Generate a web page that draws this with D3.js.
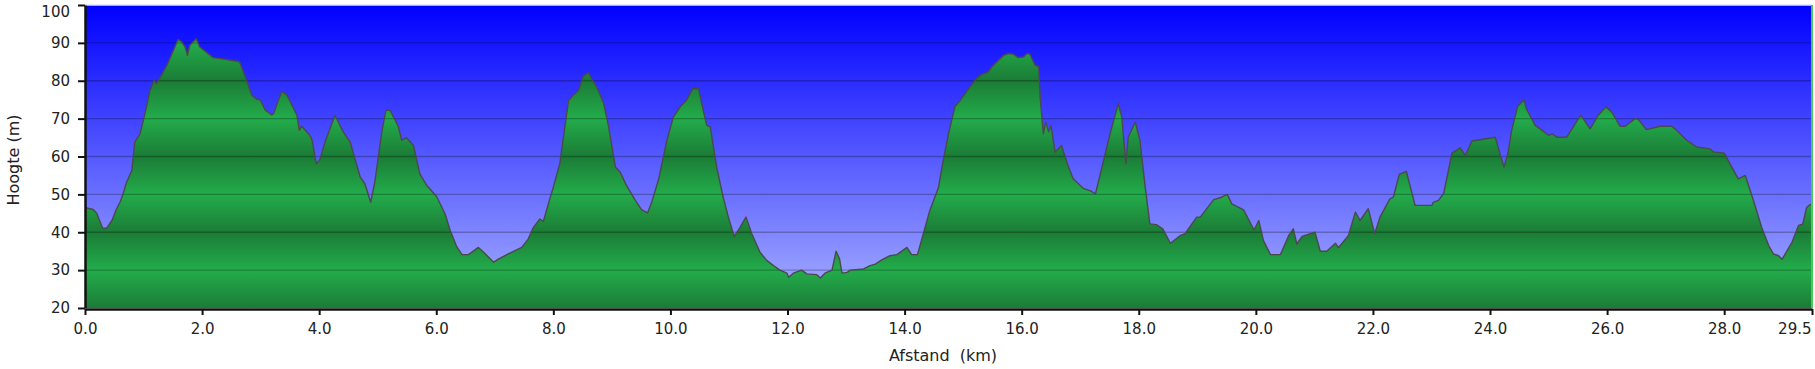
<!DOCTYPE html>
<html>
<head>
<meta charset="utf-8">
<script src="https://cdn.jsdelivr.net/npm/d3@7"></script>
<style>
  body { margin: 0; background: #fff; }
  text { font-family: "DejaVu Sans", Verdana, sans-serif; fill: #222; }
</style>
</head>
<body>
<div id="plot"></div>
<script>
// distance along the route (km) and elevation (m)
const distKm = [0.00,0.03,0.14,0.20,0.30,0.37,0.46,0.54,0.60,0.65,0.71,0.80,0.85,0.94,1.03,1.11,1.18,1.22,1.40,1.59,
  1.65,1.71,1.75,1.79,1.90,1.96,2.19,2.42,2.64,2.73,2.85,2.93,2.99,3.08,3.19,3.22,3.36,3.45,3.62,3.66,
  3.70,3.84,3.88,3.95,4.01,4.10,4.27,4.41,4.53,4.70,4.78,4.88,4.95,5.07,5.14,5.21,5.35,5.41,5.49,5.61,
  5.72,5.84,5.89,6.01,6.15,6.24,6.35,6.44,6.55,6.72,6.81,6.98,7.06,7.23,7.46,7.57,7.66,7.77,7.83,7.94,
  8.00,8.11,8.26,8.34,8.43,8.51,8.60,8.65,8.74,8.86,8.94,9.06,9.14,9.25,9.40,9.51,9.61,9.68,9.80,9.94,
  10.05,10.17,10.28,10.38,10.48,10.56,10.62,10.68,10.79,10.90,10.99,11.09,11.19,11.29,11.39,11.53,11.65,11.76,11.87,11.99,
  12.02,12.10,12.24,12.33,12.50,12.56,12.64,12.76,12.83,12.89,12.93,13.02,13.07,13.30,13.41,13.50,13.61,13.75,13.87,14.04,
  14.12,14.22,14.32,14.43,14.58,14.66,14.75,14.86,14.95,15.12,15.23,15.32,15.43,15.49,15.69,15.77,15.86,15.94,16.03,16.09,
  16.14,16.23,16.29,16.32,16.37,16.41,16.46,16.50,16.57,16.68,16.80,16.88,17.06,17.17,17.26,17.40,17.51,17.65,17.71,17.78,
  17.82,17.94,18.02,18.11,18.19,18.30,18.41,18.54,18.71,18.79,18.99,19.05,19.28,19.39,19.51,19.59,19.79,19.97,20.05,20.13,
  20.25,20.42,20.56,20.64,20.70,20.79,21.01,21.10,21.21,21.36,21.41,21.58,21.70,21.78,21.92,22.03,22.12,22.29,22.35,22.45,
  22.57,22.72,23.01,23.03,23.12,23.21,23.35,23.49,23.58,23.69,24.09,24.17,24.24,24.31,24.37,24.47,24.58,24.62,24.71,24.77,
  24.89,25.00,25.06,25.14,25.31,25.43,25.55,25.71,25.85,25.98,26.08,26.22,26.31,26.48,26.54,26.67,26.91,27.10,27.16,27.36,
  27.53,27.76,27.82,28.00,28.13,28.24,28.36,28.50,28.64,28.76,28.84,28.93,28.99,29.07,29.16,29.27,29.34,29.41,29.47,29.50];
const elevM = [46.5,46.4,46.0,45.0,41.1,41.1,43.1,46.2,48.0,50.1,53.2,56.3,63.8,66.0,71.7,77.5,80.1,79.2,84.1,90.9,
  90.3,88.9,86.7,89.4,91.1,88.9,86.1,85.6,85.0,81.4,76.2,75.1,75.0,72.2,71.0,71.3,77.2,76.2,70.9,66.9,
  68.0,65.6,64.3,58.1,59.1,63.8,70.9,66.5,63.8,54.6,52.8,47.9,53.2,66.5,72.2,72.2,68.0,64.3,65.0,62.9,
  55.4,52.3,51.5,49.3,44.9,40.4,36.2,34.1,34.1,36.0,34.7,32.1,32.9,34.3,36.0,38.2,41.3,43.5,42.9,48.8,
  51.9,58.1,74.8,76.2,77.5,81.2,82.1,80.6,78.4,74.0,68.2,57.2,55.9,52.3,48.4,45.9,45.1,47.9,54.1,64.3,
  70.4,73.2,75.0,77.9,77.9,72.2,68.2,67.8,57.2,49.3,44.0,38.9,41.3,44.0,39.6,34.7,32.5,31.2,30.0,29.2,
  28.1,29.2,30.0,29.0,28.8,27.9,29.2,30.0,35.0,32.9,29.2,29.4,30.0,30.3,31.2,31.6,32.7,33.8,34.1,36.0,
  34.1,34.1,39.6,45.7,51.9,59.0,66.0,73.2,74.8,78.5,80.6,81.7,82.3,83.7,86.7,87.2,87.0,86.1,86.3,87.2,
  87.0,84.1,83.7,74.8,66.0,69.1,66.5,68.2,61.2,62.9,57.2,54.1,51.5,51.0,50.1,59.0,66.0,74.0,70.4,58.1,
  65.1,69.1,64.3,51.9,42.2,42.0,40.9,37.1,39.1,39.6,44.0,44.0,48.6,49.1,50.0,47.5,45.9,40.6,43.1,37.8,
  34.1,34.1,39.1,40.9,36.9,38.9,40.0,35.0,35.0,37.1,35.9,39.1,45.3,43.1,46.2,39.6,44.0,48.8,49.3,55.3,
  56.1,47.1,47.1,47.9,48.4,50.3,60.9,62.3,60.3,64.1,65.1,60.7,57.2,61.2,66.9,73.2,75.0,72.6,70.0,68.2,
  66.9,65.6,66.0,65.1,65.1,68.0,70.9,67.3,70.9,73.1,71.7,68.0,68.0,70.0,69.7,67.1,68.0,68.0,67.3,64.3,
  62.5,62.0,61.2,60.9,57.2,54.1,55.0,48.4,41.3,36.5,34.3,33.8,32.9,35.0,37.4,41.8,42.1,46.6,47.3,47.5];

const xTicks = [0, 2, 4, 6, 8, 10, 12, 14, 16, 18, 20, 22, 24, 26, 28, 29.5];
const yTicks = [20, 30, 40, 50, 60, 70, 80, 90, 100];

const W = 1815, H = 369;
const margin = { top: 5, right: 3, bottom: 61, left: 85 };
const width = W - margin.left - margin.right;
const height = H - margin.top - margin.bottom;

const data = distKm.map((d, i) => ({ km: d, m: elevM[i] }));

const svg = d3.select("#plot").append("svg")
  .attr("width", W)
  .attr("height", H);

const g = svg.append("g")
  .attr("transform", `translate(${margin.left},${margin.top})`);

const x = d3.scaleLinear().domain([0, 29.5]).range([0, width]);
const y = d3.scaleLinear().domain([20, 100]).range([height, 0]);

// gradients
const defs = svg.append("defs");
const sky = defs.append("linearGradient")
  .attr("id", "sky")
  .attr("x1", 0).attr("y1", 0).attr("x2", 0).attr("y2", 1);
sky.append("stop").attr("offset", 0).attr("stop-color", "#0000ff");
sky.append("stop").attr("offset", 1).attr("stop-color", "#aab2ff");

// green bands repeat every 20 m: dark on 20/40/60/80, light on 30/50/70/90
const grass = defs.append("linearGradient")
  .attr("id", "grass")
  .attr("gradientUnits", "userSpaceOnUse")
  .attr("spreadMethod", "repeat")
  .attr("x1", 0).attr("y1", y(40))
  .attr("x2", 0).attr("y2", y(20));
grass.append("stop").attr("offset", 0).attr("stop-color", "#1b7c36");
grass.append("stop").attr("offset", 0.5).attr("stop-color", "#23ac4b");
grass.append("stop").attr("offset", 1).attr("stop-color", "#1b7c36");

g.append("rect")
  .attr("width", width)
  .attr("height", height)
  .attr("fill", "url(#sky)");

const area = d3.area()
  .x(d => x(d.km))
  .y0(y(20))
  .y1(d => y(d.m));

g.append("path")
  .datum(data)
  .attr("fill", "url(#grass)")
  .attr("d", area);

// gridlines over sky and ground
g.append("g")
  .selectAll("line")
  .data(yTicks.filter(t => t > 20 && t < 100))
  .join("line")
  .attr("x1", 0).attr("x2", width)
  .attr("y1", d => y(d)).attr("y2", d => y(d))
  .attr("stroke", "rgba(0,0,0,0.26)")
  .attr("stroke-width", 1.3);

const line = d3.line()
  .x(d => x(d.km))
  .y(d => y(d.m));

g.append("path")
  .datum(data)
  .attr("fill", "none")
  .attr("stroke", "#4a4a4a")
  .attr("stroke-width", 1.4)
  .attr("stroke-linejoin", "round")
  .attr("d", line);

// frame: light top edge, green right edge
g.append("line")
  .attr("x1", 0).attr("x2", width).attr("y1", 0).attr("y2", 0)
  .attr("stroke", "#dde0ff").attr("stroke-width", 1.5);
g.append("line")
  .attr("x1", width).attr("x2", width).attr("y1", 0).attr("y2", height)
  .attr("stroke", "#44cc55").attr("stroke-width", 2);

// axes
const yAxis = d3.axisLeft(y)
  .tickValues(yTicks)
  .tickSize(7)
  .tickSizeOuter(0)
  .tickPadding(8);

const yG = g.append("g").call(yAxis);
yG.selectAll("text")
  .style("font-size", "15px")
  .attr("dy", d => d === 100 ? "0.75em" : "0.32em");

const xAxis = d3.axisBottom(x)
  .tickValues(xTicks)
  .tickFormat(d3.format(".1f"))
  .tickSize(6)
  .tickSizeOuter(0)
  .tickPadding(8);

const xG = g.append("g")
  .attr("transform", `translate(0,${height + 1})`)
  .call(xAxis);
xG.selectAll("text").style("font-size", "15px");
// last label sits inside the right edge
xG.selectAll(".tick text")
  .filter(d => d === 29.5)
  .attr("text-anchor", "end")
  .attr("dx", "-1");

[yG, xG].forEach(a => {
  a.select(".domain").attr("stroke", "#111").attr("stroke-width", 2.5);
  a.selectAll(".tick line").attr("stroke", "#111").attr("stroke-width", 2);
});

// titles
svg.append("text")
  .attr("x", 943)
  .attr("y", 361)
  .attr("text-anchor", "middle")
  .style("font-size", "16px")
  .style("white-space", "pre")
  .text("Afstand  (km)");

svg.append("text")
  .attr("transform", "translate(19,160) rotate(-90)")
  .attr("text-anchor", "middle")
  .style("font-size", "16px")
  .text("Hoogte (m)");
</script>
</body>
</html>
